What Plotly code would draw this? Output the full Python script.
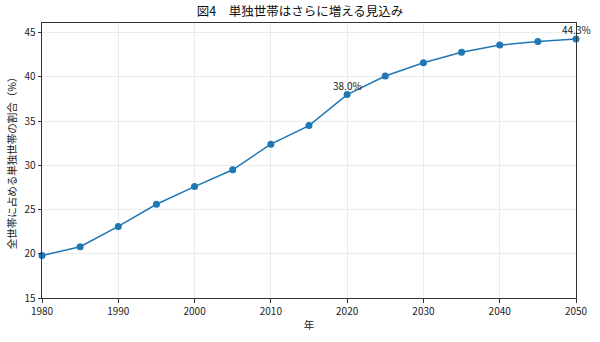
import plotly.graph_objects as go

years = [1980, 1985, 1990, 1995, 2000, 2005, 2010, 2015, 2020, 2025, 2030, 2035, 2040, 2045, 2050]
share = [19.8, 20.8, 23.1, 25.6, 27.6, 29.5, 32.4, 34.5, 38.0, 40.1, 41.6, 42.8, 43.6, 44.0, 44.3]
label_years = [2020, 2050]
x_ticks = [1980, 1990, 2000, 2010, 2020, 2030, 2040, 2050]
y_ticks = [15, 20, 25, 30, 35, 40, 45]

FONT = "Noto Sans CJK JP"
BLUE = "#1f77b4"

fig = go.Figure()
fig.add_trace(go.Scatter(
    x=years, y=share, mode="lines+markers",
    line=dict(color=BLUE, width=1.5),
    marker=dict(color=BLUE, size=7),
    cliponaxis=False,
    hoverinfo="skip",
))

for yr in label_years:
    v = share[years.index(yr)]
    fig.add_annotation(x=yr, y=v, text=f"{v:.1f}%", showarrow=False,
                       yshift=9, font=dict(size=10, color="#222", family=FONT))

axis_common = dict(
    showline=True, linecolor="#333", linewidth=1, mirror=True,
    ticks="outside", ticklen=3.5, tickcolor="#333", tickwidth=1,
    showgrid=True, gridcolor="#ebebeb", gridwidth=1,
    zeroline=False, tickfont=dict(size=10, color="#222", family=FONT),
)

fig.update_layout(
    width=600, height=342,
    margin=dict(l=41, r=23, t=23, b=41),
    paper_bgcolor="white", plot_bgcolor="white",
    showlegend=False,
    title=dict(text="図4　単独世帯はさらに増える見込み", x=0.5, xanchor="center",
               y=1 - 12 / 342, yanchor="middle",
               font=dict(size=12.5, color="#111", family=FONT)),
    xaxis=dict(range=[1980, 2050], tickvals=x_ticks,
               title=dict(text="年", font=dict(size=10.5, color="#222", family=FONT), standoff=5),
               **axis_common),
    yaxis=dict(range=[15, 46.1], tickvals=y_ticks,
               title=dict(text="全世帯に占める単独世帯の割合（%）", font=dict(size=10.5, color="#222", family=FONT), standoff=5),
               **axis_common),
)

fig.write_html("out.html")
